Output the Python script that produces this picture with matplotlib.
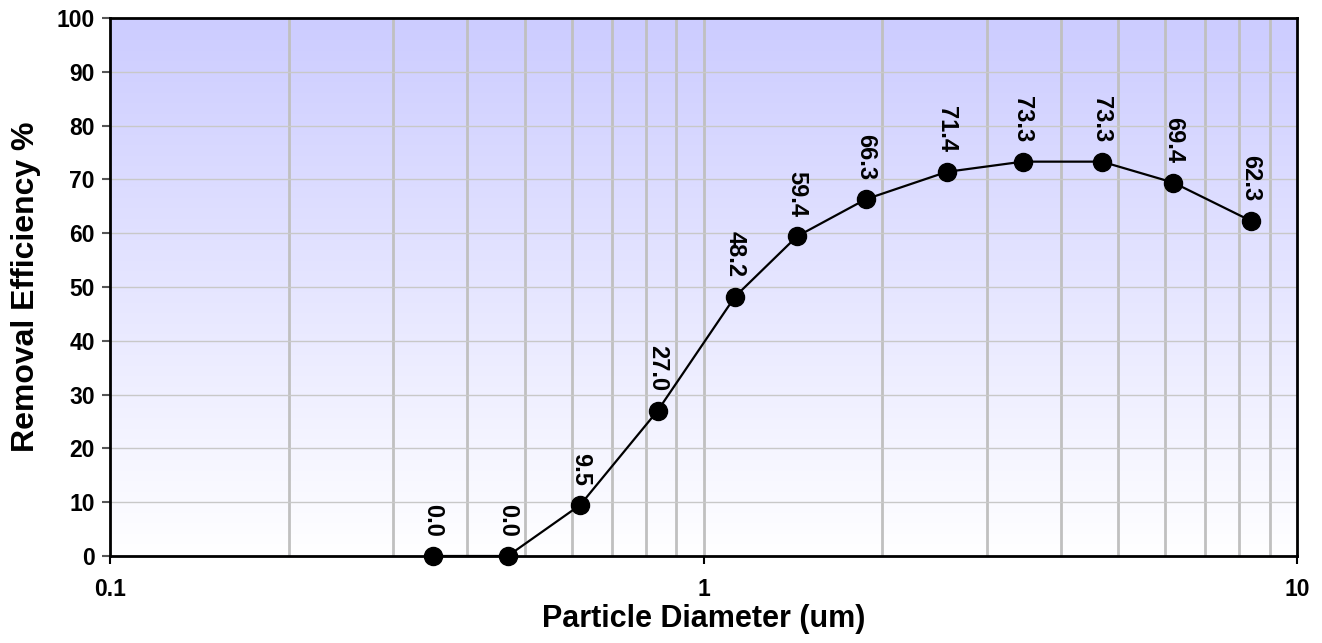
import matplotlib
matplotlib.use("Agg")
import matplotlib.pyplot as plt
import numpy as np
from matplotlib.colors import LinearSegmentedColormap
from matplotlib.ticker import FixedLocator, NullFormatter, FixedFormatter

plt.rcParams['font.family'] = ['Liberation Sans', 'DejaVu Sans']
plt.rcParams['font.weight'] = 'bold'

diameters = [0.350, 0.468, 0.620, 0.837, 1.13, 1.437, 1.876, 2.57, 3.45, 4.69, 6.19, 8.36]
efficiency = [0.0, 0.0, 9.5, 27.0, 48.2, 59.4, 66.3, 71.4, 73.3, 73.3, 69.4, 62.3]
x_ticks = [0.1, 1, 10]
x_tick_labels = ['0.1', '1', '10']
y_ticks = list(range(0, 101, 10))

fig = plt.figure(figsize=(13.22, 6.43), dpi=100)
ax = fig.add_axes([110/1322, 1-556/643, (1297-110)/1322, (556-18)/643])

cmap = LinearSegmentedColormap.from_list('bg', ['#ffffff', '#ccccff'])
grad = np.linspace(0, 1, 256).reshape(-1, 1)
ax.imshow(grad, aspect='auto', cmap=cmap, origin='lower',
          extent=[0, 1, 0, 1], transform=ax.transAxes, zorder=0)

ax.set_xscale('log')
ax.set_xlim(0.1, 10)
ax.set_ylim(0, 100)

minor = [m * d for d in (0.1, 1) for m in range(2, 10)]
for v in minor + [1]:
    ax.axvline(v, color='#c0c0c0', lw=2, zorder=1)
for v in y_ticks[1:-1]:
    ax.axhline(v, color='#c8c8c8', lw=1, zorder=1)

ax.plot(diameters, efficiency, color='black', lw=1.6, marker='o',
        markersize=13, markerfacecolor='black', zorder=3, clip_on=False)

for xv, yv in zip(diameters, efficiency):
    ax.annotate(f'{yv:.1f}', (xv, yv), xytext=(0, 14), textcoords='offset points',
                rotation=-90, ha='center', va='bottom', fontsize=17,
                fontweight='bold', zorder=4)

ax.xaxis.set_major_locator(FixedLocator(x_ticks))
ax.xaxis.set_major_formatter(FixedFormatter(x_tick_labels))
ax.xaxis.set_minor_locator(FixedLocator([]))
ax.xaxis.set_minor_formatter(NullFormatter())
ax.set_yticks(y_ticks)
ax.tick_params(axis='both', direction='out', length=6, width=1.5, labelsize=16.5, color='black')
ax.tick_params(axis='x', pad=10)
ax.tick_params(axis='y', pad=5, color='#555555')
for lab in ax.get_xticklabels() + ax.get_yticklabels():
    lab.set_fontweight('bold')

for s in ax.spines.values():
    s.set_linewidth(2)
    s.set_color('black')
    s.set_zorder(5)

ax.set_xlabel('Particle Diameter (um)', fontsize=22, fontweight='bold', labelpad=2)
ax.set_ylabel('Removal Efficiency %', fontsize=23, fontweight='bold', labelpad=11)

fig.savefig('out.png', dpi=100)
